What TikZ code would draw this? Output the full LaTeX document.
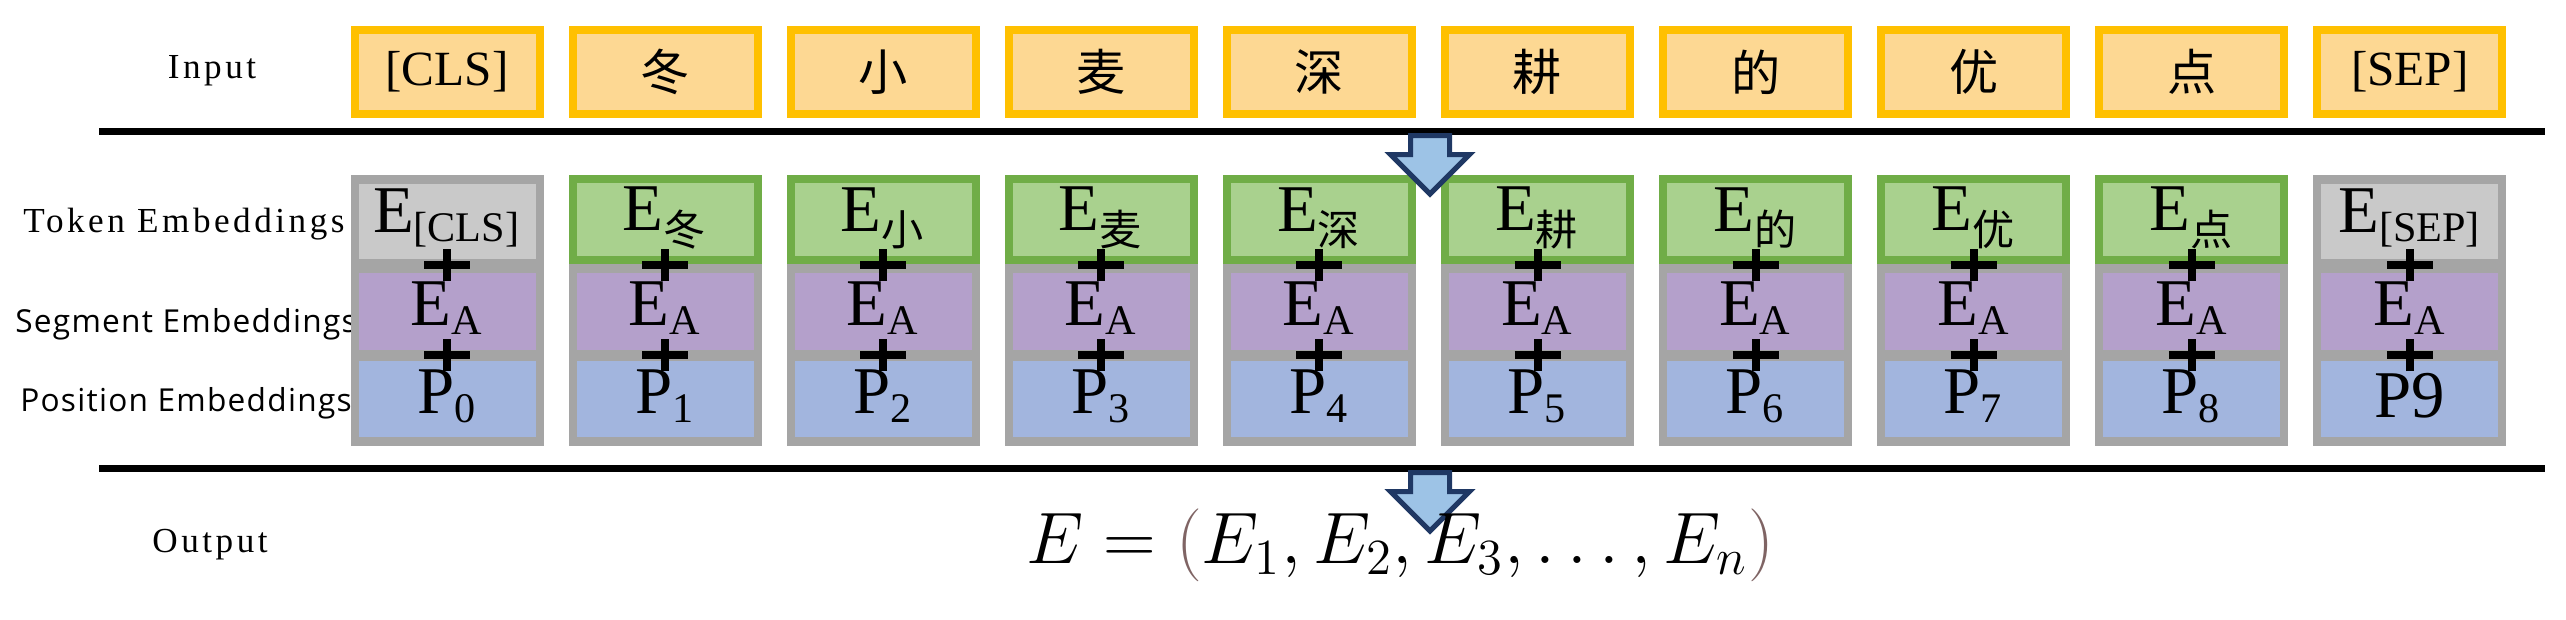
\documentclass[tikz,border=0pt]{standalone}
\usepackage{fontspec}
\setmainfont{Liberation Serif}
\newfontfamily\cjk{Noto Sans CJK SC}
\newfontfamily\lblsans[LetterSpace=4]{Open Sans}
\newfontfamily\lblserif[LetterSpace=10]{Liberation Serif}
\usetikzlibrary{shapes.arrows}
\definecolor{inborder}{HTML}{FFC000}
\definecolor{infill}{HTML}{FDD893}
\definecolor{tokborder}{HTML}{70AD47}
\definecolor{tokfill}{HTML}{A9D18E}
\definecolor{colgray}{HTML}{A5A5A5}
\definecolor{lightgray}{HTML}{C9C9C9}
\definecolor{segfill}{HTML}{B4A0CB}
\definecolor{posfill}{HTML}{A2B5DE}
\definecolor{parcol}{HTML}{7F6464}
\definecolor{arrborder}{HTML}{1F3864}
\definecolor{arrfill}{HTML}{9DC3E6}
\tikzset{
  inbox/.style={draw=inborder, fill=infill, line width=0.8mm, minimum width=18.5mm, minimum height=8.4mm, font=\fontsize{14}{14}\selectfont},
  colframe/.style={draw=colgray, fill=colgray, line width=0.8mm, minimum width=18.5mm, minimum height=26.3mm},
  tokgreen/.style={draw=tokborder, fill=tokfill, line width=0.8mm, minimum width=18.5mm, minimum height=8.1mm},
  tokgray/.style={fill=lightgray, minimum width=17.7mm, minimum height=7.5mm},
  segcell/.style={fill=segfill, minimum width=17.7mm, minimum height=7.7mm},
  poscell/.style={fill=posfill, minimum width=17.7mm, minimum height=7.6mm},
  celltext/.style={font=\fontsize{19}{19}\selectfont},
  plus/.style={inner sep=0pt},
  rowlabel/.style={font=\fontsize{10}{10}\selectfont\lblserif},
  sublabel/.style={font=\fontsize{9}{9}\selectfont\lblsans},
  downarrow/.style={single arrow, draw=arrborder, fill=arrfill, line width=0.5mm, minimum height=5.5mm, minimum width=7.5mm, inner sep=1.7mm, single arrow head extend=2mm, rotate=-90},
  sepline/.style={line width=0.7mm}
}
\newcommand{\sub}[1]{\textsubscript{\fontsize{12}{12}\selectfont #1}}
\newcommand{\plusmark}{\hbox to 4.6mm{\hss\rule[-1.6mm]{0.8mm}{3.2mm}\hss}\llap{\rule[-0.4mm]{4.6mm}{0.8mm}}}
\begin{document}
\begin{tikzpicture}[x=0.1mm, y=-0.1mm]
  \useasboundingbox (0,0) rectangle (2566,619);

  % row labels
  \node[rowlabel] (lin) at (212,71) {Input};
  \node[rowlabel] (ltok) at (184,224) {Token Embeddings};
  \node[sublabel] (lseg) at (186,324) {Segment Embeddings};
  \node[sublabel] (lpos) at (186,403) {Position Embeddings};
  \node[rowlabel] (lout) at (210,545) {Output};

  % separating lines
  \coordinate (t1) at (99,131);
  \coordinate (t2) at (2545,131);
  \coordinate (b1) at (99,468);
  \coordinate (b2) at (2545,468);
  \draw[sepline] (t1) -- (t2);
  \draw[sepline] (b1) -- (b2);

  % columns
  \foreach \i/\intext/\toktext/\postext/\kind in {
      0/{[CLS]}/{E\sub{[CLS]}}/{P\sub{0}}/g,
      1/{\cjk 冬}/{E\sub{\cjk 冬}}/{P\sub{1}}/t,
      2/{\cjk 小}/{E\sub{\cjk 小}}/{P\sub{2}}/t,
      3/{\cjk 麦}/{E\sub{\cjk 麦}}/{P\sub{3}}/t,
      4/{\cjk 深}/{E\sub{\cjk 深}}/{P\sub{4}}/t,
      5/{\cjk 耕}/{E\sub{\cjk 耕}}/{P\sub{5}}/t,
      6/{\cjk 的}/{E\sub{\cjk 的}}/{P\sub{6}}/t,
      7/{\cjk 优}/{E\sub{\cjk 优}}/{P\sub{7}}/t,
      8/{\cjk 点}/{E\sub{\cjk 点}}/{P\sub{8}}/t,
      9/{[SEP]}/{E\sub{[SEP]}}/{P9}/g} {
    \pgfmathsetmacro{\cx}{447+218.1*\i}
    \node[inbox] (in\i) at (\cx,72) {\intext};
    \node[colframe] (col\i) at (\cx,310.5) {};
    \if\kind t
      \node[tokgreen] (tok\i) at (\cx,219.5) {};
    \else
      \node[tokgray] (tok\i) at (\cx,221) {};
    \fi
    \node[segcell] (seg\i) at (\cx,311) {};
    \node[poscell] (pos\i) at (\cx,399) {};
    \node[celltext] (toktx\i) at (\cx,218) {\toktext};
    \node[celltext] (segtx\i) at (\cx,308) {E\sub{A}};
    \node[celltext] (postx\i) at (\cx,396) {\postext};
    \node[plus] (pa\i) at (\cx,265) {\plusmark};
    \node[plus] (pb\i) at (\cx,355) {\plusmark};
  }

  % arrows
  \node[downarrow] (arr1) at (1430,155) {};
  \node[downarrow] (arr2) at (1430,492) {};

  % output formula
  \node[font=\fontsize{21}{21}\selectfont] (formula) at (1400,545)
    {$E = \textcolor{parcol}{(}E_1, E_2, E_3, \ldots, E_n\textcolor{parcol}{)}$};
\end{tikzpicture}
\end{document}
